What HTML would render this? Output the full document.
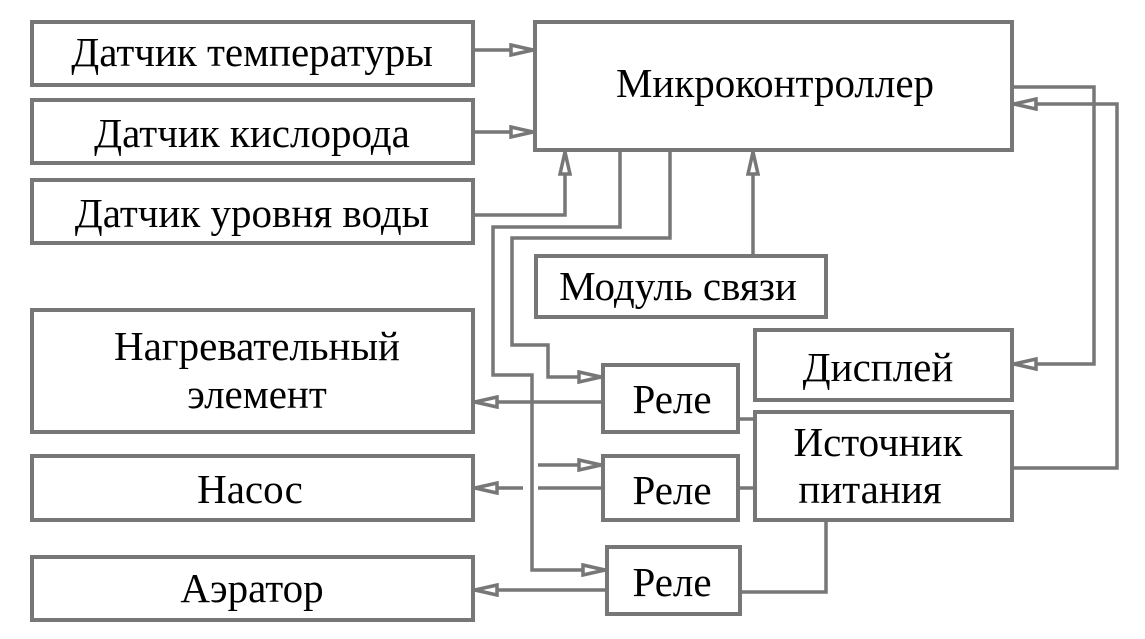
<!DOCTYPE html>
<html><head><meta charset="utf-8"><style>
html,body{margin:0;padding:0;background:#fff;}
svg{display:block;}
text{font-family:"Liberation Serif","DejaVu Serif",serif;font-size:41px;fill:#000;}
</style></head><body>
<svg width="1145" height="639" viewBox="0 0 1145 639" xmlns="http://www.w3.org/2000/svg">
<defs>
<marker id="a" viewBox="0 0 26 14" refX="26" refY="7" markerWidth="26" markerHeight="14" markerUnits="userSpaceOnUse" orient="auto">
<polygon points="2,2 24,7 2,12" fill="#fff" stroke="#777" stroke-width="3.5"/>
</marker>
</defs>
<g fill="none" stroke="#777" stroke-width="4">
<rect x="32" y="22" width="441" height="63"/>
<rect x="32" y="100" width="441" height="63"/>
<rect x="32" y="180" width="441" height="63"/>
<rect x="535" y="22" width="477" height="128"/>
<rect x="536" y="256" width="290" height="61"/>
<rect x="32" y="310" width="441" height="122"/>
<rect x="32" y="456" width="441" height="64"/>
<rect x="32" y="557" width="441" height="63"/>
<rect x="603" y="365" width="135" height="67"/>
<rect x="603" y="456" width="135" height="64"/>
<rect x="607" y="547" width="133" height="67"/>
<rect x="755" y="330" width="257" height="70"/>
<rect x="755" y="412" width="257" height="108"/>
</g>
<g fill="none" stroke="#777" stroke-width="3.5">
<path d="M473 50 H535" marker-end="url(#a)"/>
<path d="M473 132 H535" marker-end="url(#a)"/>
<path d="M473 215 H565 V150" marker-end="url(#a)"/>
<path d="M753 256 V150" marker-end="url(#a)"/>
<path d="M620 150 V227 H493 V375 H532 V570 H607" marker-end="url(#a)"/>
<path d="M670 150 V238 H512 V345 H548 V377 H603" marker-end="url(#a)"/>
<path d="M603 402 H473" marker-end="url(#a)"/>
<path d="M538 465 H603" marker-end="url(#a)"/>
<path d="M538 488 H603"/>
<path d="M523 488 H473" marker-end="url(#a)"/>
<path d="M607 590 H473" marker-end="url(#a)"/>
<path d="M738 419 H755"/>
<path d="M738 488 H755"/>
<path d="M740 592 H826 V520"/>
<path d="M1012 87 H1094 V364 H1012" marker-end="url(#a)"/>
<path d="M1012 468 H1117 V104 H1012" marker-end="url(#a)"/>
</g>
<text x="252" y="66" text-anchor="middle">Датчик температуры</text>
<text x="252" y="147" text-anchor="middle">Датчик кислорода</text>
<text x="252" y="227" text-anchor="middle">Датчик уровня воды</text>
<text x="775" y="97" text-anchor="middle">Микроконтроллер</text>
<text x="678" y="300" text-anchor="middle">Модуль связи</text>
<text x="257" y="360" text-anchor="middle">Нагревательный</text>
<text x="257" y="408" text-anchor="middle">элемент</text>
<text x="250" y="503" text-anchor="middle">Насос</text>
<text x="252" y="602" text-anchor="middle">Аэратор</text>
<text x="672" y="413" text-anchor="middle">Реле</text>
<text x="672" y="504" text-anchor="middle">Реле</text>
<text x="672" y="596" text-anchor="middle">Реле</text>
<text x="878" y="381" text-anchor="middle">Дисплей</text>
<text x="878" y="456" text-anchor="middle">Источник</text>
<text x="870" y="503" text-anchor="middle">питания</text>
</svg>
</body></html>
